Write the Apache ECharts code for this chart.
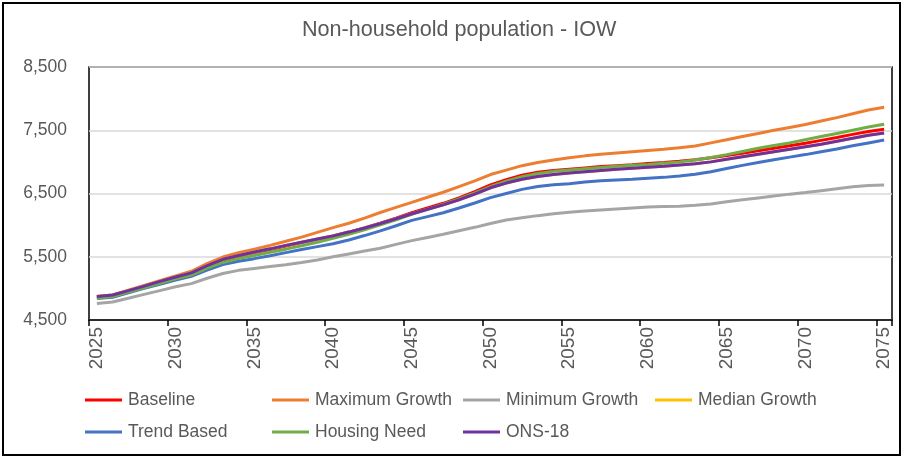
<!DOCTYPE html>
<html>
<head>
<meta charset="utf-8">
<script src="https://cdn.jsdelivr.net/npm/echarts@6/dist/echarts.min.js"></script>
<style>
html,body{margin:0;padding:0;background:#fff;}
#chart{width:904px;height:458px;}
</style>
</head>
<body>
<div id="chart"></div>
<script>
const years = [];
for (let y = 2025; y <= 2075; y++) years.push(String(y));

const baseline = [4860,4885,4955,5025,5095,5165,5235,5350,5445,5510,5565,
  5615,5670,5725,5775,5830,5890,5955,6030,6110,6195,
  6270,6345,6430,6530,6635,6720,6790,6835,6865,6885,
  6905,6925,6940,6955,6975,6990,7010,7035,7065,7100,
  7135,7175,7215,7255,7295,7340,7385,7435,7480,7515];
const maximumGrowth = [4870,4895,4970,5045,5120,5195,5270,5390,5495,5565,5620,
  5680,5745,5810,5885,5960,6030,6110,6200,6280,6360,
  6440,6520,6610,6700,6800,6870,6940,6990,7030,7065,
  7095,7120,7140,7160,7180,7200,7225,7250,7300,7350,
  7400,7450,7500,7545,7590,7645,7700,7760,7820,7865];
const minimumGrowth = [4760,4785,4845,4905,4965,5025,5075,5160,5235,5285,5315,
  5345,5375,5410,5450,5500,5545,5590,5635,5695,5755,
  5805,5855,5910,5965,6025,6080,6115,6150,6180,6205,
  6225,6240,6255,6270,6285,6295,6300,6315,6335,6370,
  6400,6430,6460,6490,6515,6545,6575,6605,6625,6635];
const medianGrowth = [4870,4895,4965,5035,5110,5180,5245,5360,5460,5520,5575,
  5625,5680,5730,5780,5830,5890,5955,6025,6100,6180,
  6250,6320,6400,6490,6590,6665,6725,6770,6800,6825,
  6845,6865,6885,6900,6915,6930,6950,6970,7000,7040,
  7080,7120,7160,7200,7240,7280,7325,7375,7420,7455];
const trendBased = [4840,4860,4930,5000,5065,5130,5190,5290,5375,5430,5470,
  5515,5565,5615,5660,5705,5765,5835,5910,5990,6075,
  6135,6195,6270,6350,6435,6500,6565,6610,6640,6655,
  6680,6700,6715,6725,6740,6755,6775,6805,6845,6895,
  6945,6990,7035,7075,7115,7160,7205,7255,7300,7345];
const housingNeed = [4845,4870,4940,5010,5080,5150,5210,5320,5410,5470,5520,
  5570,5620,5675,5730,5790,5855,5925,6005,6085,6170,
  6250,6330,6415,6510,6610,6695,6765,6815,6850,6870,
  6890,6910,6930,6945,6960,6980,7000,7030,7070,7115,
  7165,7215,7260,7300,7350,7400,7450,7500,7550,7595];
const ons18 = [4870,4895,4965,5035,5110,5180,5245,5360,5460,5520,5575,
  5625,5680,5730,5780,5830,5890,5955,6025,6100,6180,
  6250,6320,6400,6490,6590,6665,6725,6770,6800,6825,
  6845,6865,6885,6900,6915,6930,6950,6970,7000,7040,
  7080,7120,7160,7200,7240,7280,7325,7375,7420,7455];

const seriesNames = ['Baseline','Maximum Growth','Minimum Growth','Median Growth','Trend Based','Housing Need','ONS-18'];
const seriesData = [baseline, maximumGrowth, minimumGrowth, medianGrowth, trendBased, housingNeed, ons18];
const seriesColors = ['#FF0000','#ED7D31','#A5A5A5','#FFC000','#4472C4','#70AD47','#7030A0'];
const titleText = 'Non-household population - IOW';

const FONT = '"Liberation Sans", Arial, sans-serif';
const TXT = '#595959';

const legendPos = [[85,390],[272,390],[463,390],[655,390],[85,422],[272,422],[463,422]];
const legends = seriesNames.map((n,i)=>({
  data:[n], left:legendPos[i][0], top:legendPos[i][1], padding:0,
  icon:'rect', itemWidth:37, itemHeight:3, selectedMode:false,
  textStyle:{fontFamily:FONT,fontSize:17.5,color:TXT,lineHeight:20,padding:[0,0,0,1]}
}));

const chart = echarts.init(document.getElementById('chart'), null, {renderer:'canvas'});
chart.setOption({
  animation:false,
  backgroundColor:'#fff',
  title:{text:titleText,left:302,top:19,padding:0,
    textStyle:{fontFamily:FONT,fontSize:21.6,fontWeight:'normal',color:TXT}},
  legend:legends,
  grid:{left:89,right:12,top:67,bottom:138,show:true,borderColor:'#000',borderWidth:1.5,containLabel:false},
  xAxis:{type:'category',data:years,boundaryGap:true,
    axisLine:{show:true,lineStyle:{color:'#000',width:1.5}},
    axisTick:{show:true,alignWithLabel:false,interval:4,length:6,lineStyle:{color:'#000',width:1.5}},
    axisLabel:{interval:4,rotate:90,margin:7,fontFamily:FONT,fontSize:19,color:TXT},
    splitLine:{show:false}},
  yAxis:{type:'value',min:4500,max:8500,interval:1000,
    axisLine:{show:false},axisTick:{show:false},
    axisLabel:{margin:22,fontFamily:FONT,fontSize:17.5,color:TXT,
      formatter:v=>v.toLocaleString('en-US')},
    splitLine:{show:true,lineStyle:{color:'#D9D9D9',width:1.5}}},
  series:seriesNames.map((n,i)=>({
    name:n,type:'line',data:seriesData[i],showSymbol:false,symbol:'none',smooth:false,
    lineStyle:{color:seriesColors[i],width:3},itemStyle:{color:seriesColors[i]},
    emphasis:{disabled:true}
  })),
  graphic:[{type:'rect',shape:{x:3,y:3,width:897,height:452},
    style:{fill:'none',stroke:'#000',lineWidth:2},silent:true,z:100}]
});
</script>
</body>
</html>
